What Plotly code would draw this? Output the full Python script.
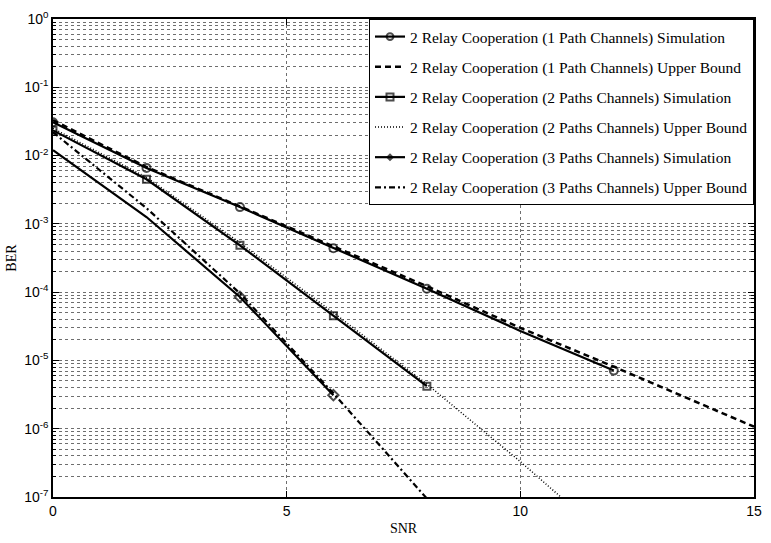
import plotly.graph_objects as go

# ---- data ----
snr_sim1 = [0, 2, 4, 6, 8, 10, 12]
ber_sim1 = [3.08e-2, 6.6e-3, 1.76e-3, 4.4e-4, 1.12e-4, 2.7e-5, 7.1e-6]
snr_ub1 = [0, 2, 4, 6, 8, 10, 12, 14, 15]
ber_ub1 = [3.3e-2, 6.8e-3, 1.8e-3, 4.7e-4, 1.22e-4, 3.0e-5, 8.1e-6, 2.1e-6, 1.07e-6]

snr_sim2 = [0, 2, 4, 6, 8]
ber_sim2 = [2.34e-2, 4.5e-3, 4.85e-4, 4.5e-5, 4.2e-6]
snr_ub2 = [0, 2, 4, 6, 8, 10, 11]
ber_ub2 = [2.5e-2, 4.8e-3, 5.3e-4, 5.0e-5, 4.5e-6, 3.3e-7, 8.3e-8]

snr_sim3 = [0, 2, 4, 6]
ber_sim3 = [1.2e-2, 1.26e-3, 8.5e-5, 3.1e-6]
snr_ub3 = [0, 2, 4, 6, 8]
ber_ub3 = [2.2e-2, 1.7e-3, 9.6e-5, 3.3e-6, 9.5e-8]

names = [
    "2 Relay Cooperation (1 Path Channels) Simulation",
    "2 Relay Cooperation (1 Path Channels) Upper Bound",
    "2 Relay Cooperation (2 Paths Channels) Simulation",
    "2 Relay Cooperation (2 Paths Channels) Upper Bound",
    "2 Relay Cooperation (3 Paths Channels) Simulation",
    "2 Relay Cooperation (3 Paths Channels) Upper Bound",
]
# sim points shown without a marker in the reference
hidden_sim1 = [10]
hidden_sim2 = []
hidden_sim3 = [0, 2]

ytick_vals = [1, 1e-1, 1e-2, 1e-3, 1e-4, 1e-5, 1e-6, 1e-7]
ytick_text = ["10<sup>0</sup>", "10<sup>-1</sup>", "10<sup>-2</sup>", "10<sup>-3</sup>",
              "10<sup>-4</sup>", "10<sup>-5</sup>", "10<sup>-6</sup>", "10<sup>-7</sup>"]
xtick_vals = [0, 5, 10, 15]

fig = go.Figure()

def sizes(xs, hidden, s=8):
    return [0 if x in hidden else s for x in xs]

fig.add_trace(go.Scatter(x=snr_sim1, y=ber_sim1, name=names[0], mode="lines+markers",
                         legendgroup="a",
                         line=dict(color="black", width=2.2),
                         marker=dict(symbol="circle-open", size=sizes(snr_sim1, hidden_sim1),
                                     color="black", line=dict(width=2))))
fig.add_trace(go.Scatter(x=snr_ub1, y=ber_ub1, name=names[1], mode="lines",
                         legendgroup="b",
                         line=dict(color="black", width=2.5, dash="6px,4px")))
fig.add_trace(go.Scatter(x=snr_sim2, y=ber_sim2, name=names[2], mode="lines+markers",
                         legendgroup="c",
                         line=dict(color="black", width=2.2),
                         marker=dict(symbol="square-open", size=sizes(snr_sim2, hidden_sim2, 7),
                                     color="black", line=dict(width=2))))
fig.add_trace(go.Scatter(x=snr_ub2, y=ber_ub2, name=names[3], mode="lines",
                         legendgroup="d",
                         line=dict(color="black", width=1.5, dash="1px,2px")))
fig.add_trace(go.Scatter(x=snr_sim3, y=ber_sim3, name=names[4], mode="lines+markers",
                         legendgroup="e",
                         line=dict(color="black", width=2.2),
                         marker=dict(symbol="diamond-open", size=sizes(snr_sim3, hidden_sim3, 8),
                                     color="black", line=dict(width=2))))
fig.add_trace(go.Scatter(x=snr_ub3, y=ber_ub3, name=names[5], mode="lines",
                         legendgroup="f",
                         line=dict(color="black", width=2.2, dash="6px,3px,2px,3px")))

grid_col = "#6e6e6e"
fig.update_layout(
    width=771, height=543,
    margin=dict(l=53, r=9, t=13, b=42),
    paper_bgcolor="white", plot_bgcolor="white",
    showlegend=True,
    legend=dict(x=1, y=1, xanchor="right", yanchor="top",
                bgcolor="white", bordercolor="black", borderwidth=1,
                font=dict(family="Liberation Serif", size=15.5, color="black"),
                tracegroupgap=7, traceorder="grouped",
                itemwidth=30),
    font=dict(family="Liberation Sans", color="black"),
)
fig.update_xaxes(
    range=[0, 15], tickvals=xtick_vals, ticktext=[str(v) for v in xtick_vals],
    showline=True, linecolor="black", linewidth=1.5, mirror="ticks",
    ticks="inside", ticklen=6, tickcolor="black",
    showgrid=True, gridcolor=grid_col, griddash="dot", gridwidth=1,
    zeroline=False,
    tickfont=dict(family="Liberation Sans", size=14),
    title=dict(text="SNR", font=dict(family="Liberation Serif", size=14), standoff=6),
)
fig.update_yaxes(
    type="log", range=[-7, 0], tickvals=ytick_vals, ticktext=ytick_text,
    showline=True, linecolor="black", linewidth=1.5, mirror="ticks",
    ticks="inside", ticklen=6, tickcolor="black",
    showgrid=True, gridcolor=grid_col, griddash="dot", gridwidth=1,
    zeroline=False,
    minor=dict(dtick="D1", showgrid=True, gridcolor=grid_col, griddash="dot",
               gridwidth=1, ticks="inside", ticklen=3, tickcolor="black"),
    tickfont=dict(family="Liberation Sans", size=14),
    title=dict(text="BER", font=dict(family="Liberation Serif", size=14), standoff=4),
)

fig.write_html("out.html")
